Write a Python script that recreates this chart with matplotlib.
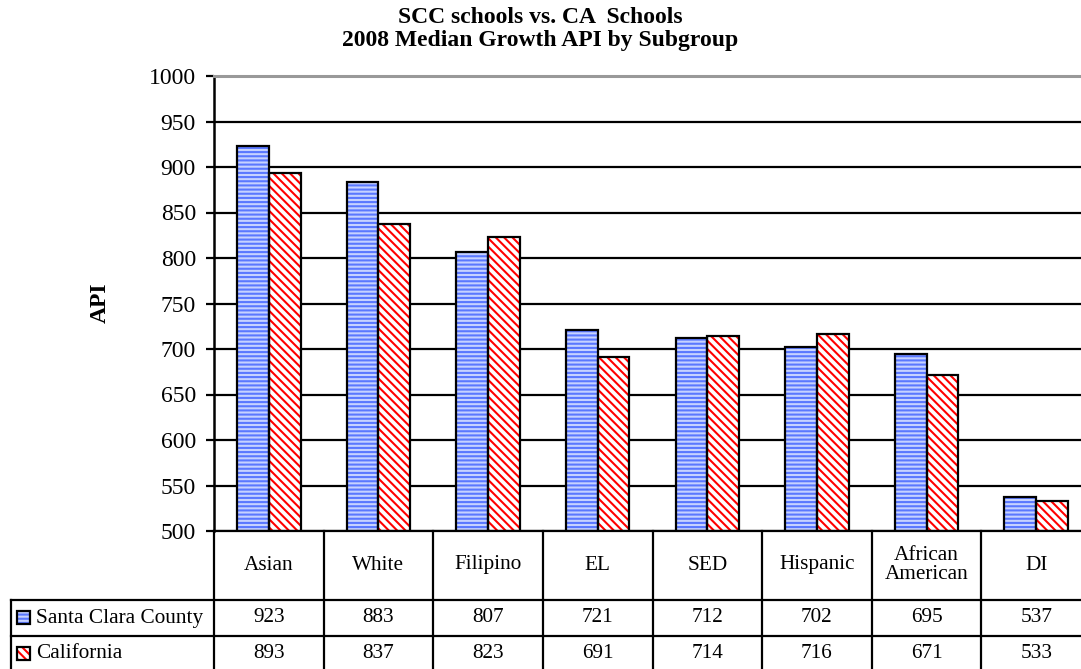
import matplotlib
matplotlib.use("Agg")
import matplotlib.pyplot as plt
import numpy as np
from matplotlib.transforms import blended_transform_factory
from matplotlib.patches import Rectangle

categories = ["Asian", "White", "Filipino", "EL", "SED", "Hispanic", "African\nAmerican", "DI"]
scc = [923, 883, 807, 721, 712, 702, 695, 537]
ca = [893, 837, 823, 691, 714, 716, 671, 533]
series_names = ["Santa Clara County", "California"]
yticks = [500, 550, 600, 650, 700, 750, 800, 850, 900, 950, 1000]
title = "SCC schools vs. CA  Schools\n2008 Median Growth API by Subgroup"
ylabel = "API"

plt.rcParams['font.family'] = ['Liberation Serif', 'DejaVu Serif']
plt.rcParams['hatch.linewidth'] = 1.5

W, H = 1081, 669
fig = plt.figure(figsize=(W / 100, H / 100), dpi=100)

def fx(px):
    return px / W

def fy(py):
    return 1 - py / H

ax_l, ax_r, ax_t, ax_b = 214, 1091, 76, 531
ax = fig.add_axes([fx(ax_l), fy(ax_b), fx(ax_r - ax_l), fy(ax_t) - fy(ax_b)])

ymin, ymax = yticks[0], yticks[-1]
x = np.arange(len(categories))
w = 0.29
blue_face = '#c6d2ff'
blue_hatch = '#5a78ff'
red_hatch = '#ff0000'
hp_blue = '----'
hp_red = '\\\\\\\\'

styles = [(blue_face, blue_hatch, hp_blue), ('white', red_hatch, hp_red)]
for k, (vals, off) in enumerate(((scc, -w / 2), (ca, w / 2))):
    face, hc, hp = styles[k]
    bars = ax.bar(x + off, np.array(vals) - ymin, bottom=ymin, width=w,
                  facecolor=face, edgecolor='none', linewidth=0, zorder=3)
    for p in bars:
        ax.add_patch(Rectangle(p.get_xy(), p.get_width(), p.get_height(), facecolor='none',
                               edgecolor=hc, linewidth=0, hatch=hp, zorder=3.5))
        ax.add_patch(Rectangle(p.get_xy(), p.get_width(), p.get_height(), facecolor='none',
                               edgecolor='black', linewidth=1.6, zorder=4))

ax.set_xlim(-0.5, len(categories) - 0.5)
ax.set_ylim(ymin, ymax)
ax.set_yticks(yticks)
ax.set_yticklabels([str(t) for t in yticks], fontsize=17)
ax.set_xticks([])
ax.grid(axis='y', color='black', linewidth=1.6, zorder=0)
ax.set_axisbelow(True)
ax.spines['right'].set_visible(False)
ax.spines['bottom'].set_visible(False)
ax.spines['top'].set_color('#999999')
ax.spines['top'].set_linewidth(2.2)
ax.spines['left'].set_linewidth(1.8)
ax.tick_params(axis='y', direction='out', length=6, width=1.6, pad=7)

fig.text(0.5, fy(29), title, ha='center', va='center', fontsize=17,
         fontweight='bold', linespacing=1.08)
fig.text(fx(100), fy(303), ylabel, ha='center', va='center', rotation=90,
         fontsize=17, fontweight='bold')

# data table
tr = blended_transform_factory(ax.transData, fig.transFigure)
ft = fig.transFigure
lw = 1.6
row_y = [531, 600, 636, 672]
tab_left = 11
n = len(categories)
for i in range(n + 1):
    fig.add_artist(plt.Line2D([i - 0.5, i - 0.5], [fy(531), fy(row_y[-1])], transform=tr,
                              color='black', linewidth=lw, clip_on=False))
fig.add_artist(plt.Line2D([fx(tab_left), fx(tab_left)], [fy(600), fy(row_y[-1])], transform=ft,
                          color='black', linewidth=lw))
for yy in row_y[1:]:
    fig.add_artist(plt.Line2D([fx(tab_left), fx(1100)], [fy(yy), fy(yy)], transform=ft,
                              color='black', linewidth=lw))
fig.add_artist(plt.Line2D([fx(ax_l), fx(1100)], [fy(531), fy(531)], transform=ft,
                          color='black', linewidth=lw))

fs_tab = 15.3
for i, c in enumerate(categories):
    fig.text(i, fy(565), c, transform=tr, ha='center', va='center', fontsize=fs_tab,
             linespacing=1.05)
for r, (vals, name) in enumerate(((scc, series_names[0]), (ca, series_names[1]))):
    yc = (row_y[r + 1] + row_y[r + 2]) / 2
    for i, v in enumerate(vals):
        fig.text(i, fy(yc), str(v), transform=tr, ha='center', va='center', fontsize=fs_tab)
    fig.text(fx(36), fy(yc), name, ha='left', va='center', fontsize=fs_tab)
    kx, ky, ks = 17, yc - 7, 13
    face, hc, hp = styles[r]
    rect = ((fx(kx), fy(ky + ks)), fx(ks), fy(0) - fy(ks))
    fig.add_artist(Rectangle(*rect, transform=ft, facecolor=face, edgecolor='none'))
    fig.add_artist(Rectangle(*rect, transform=ft, facecolor='none', edgecolor=hc,
                             linewidth=0, hatch=hp))
    fig.add_artist(Rectangle(*rect, transform=ft, facecolor='none', edgecolor='black',
                             linewidth=1.6))

fig.savefig('out.png', dpi=100)
